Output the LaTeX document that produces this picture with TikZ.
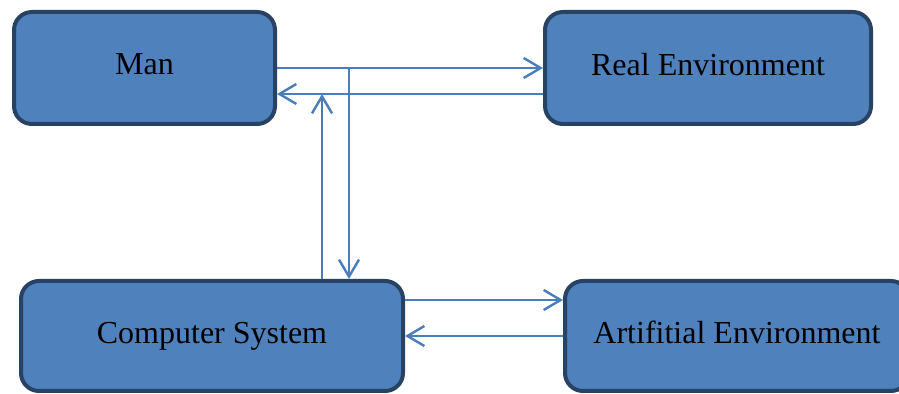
\documentclass[tikz,border=0pt]{standalone}
\usepackage{fontspec}
\setmainfont{Liberation Serif}
\usetikzlibrary{
  arrows.meta,
  calc,         % Calculations $...$
}
\definecolor{boxfill}{HTML}{4F81BD}
\definecolor{boxline}{RGB}{40,66,100}
\definecolor{arrline}{HTML}{4A7EBB}
\tikzset{
  x=0.5pt,
  y=-0.5pt,
  my box/.style={
    draw=boxline,
    fill=boxfill,
    line width=2pt,
    rounded corners=9pt,
    minimum height=56pt,
    text depth=0.35em,
    font=\fontsize{16}{19}\selectfont,
    rectangle
  },
  my arrow/.style={
    draw=arrline,
    line width=1.2pt,
    -{Straight Barb[length=8.5pt,width=10pt]}
  }
}
\begin{document}
\begin{tikzpicture}
\useasboundingbox (0,0) rectangle (899,394);
\clip (0,0) rectangle (899,394);
\node[my box,minimum width=130.5pt] (man)  at (144.5,68)  {Man};
\node[my box,minimum width=163pt]   (real) at (708,68)    {Real Environment};
\node[my box,minimum width=191pt,minimum height=55pt] (comp) at (212,336) {Computer System};
\node[my box,minimum width=172pt,minimum height=55pt] (art)  at (737,336) {Artifitial Environment};
% top pair
\draw[my arrow] (man.east) -- (man.east -| real.west);
\draw[my arrow] ([yshift=-13pt]real.west) -- ([yshift=-13pt]real.west -| man.east);
% links to the computer
\draw[my arrow] ([xshift=36pt]man.east) -- ([xshift=36pt]man.east |- comp.north);
\draw[my arrow] ([xshift=22.5pt]man.east |- comp.north) -- ([xshift=22.5pt,yshift=-13pt]man.east);
% bottom pair
\draw[my arrow] ([yshift=18pt]comp.east) -- ([yshift=18pt]comp.east -| art.west);
\draw[my arrow] (art.west) -- (art.west -| comp.east);
\end{tikzpicture}
\end{document}
